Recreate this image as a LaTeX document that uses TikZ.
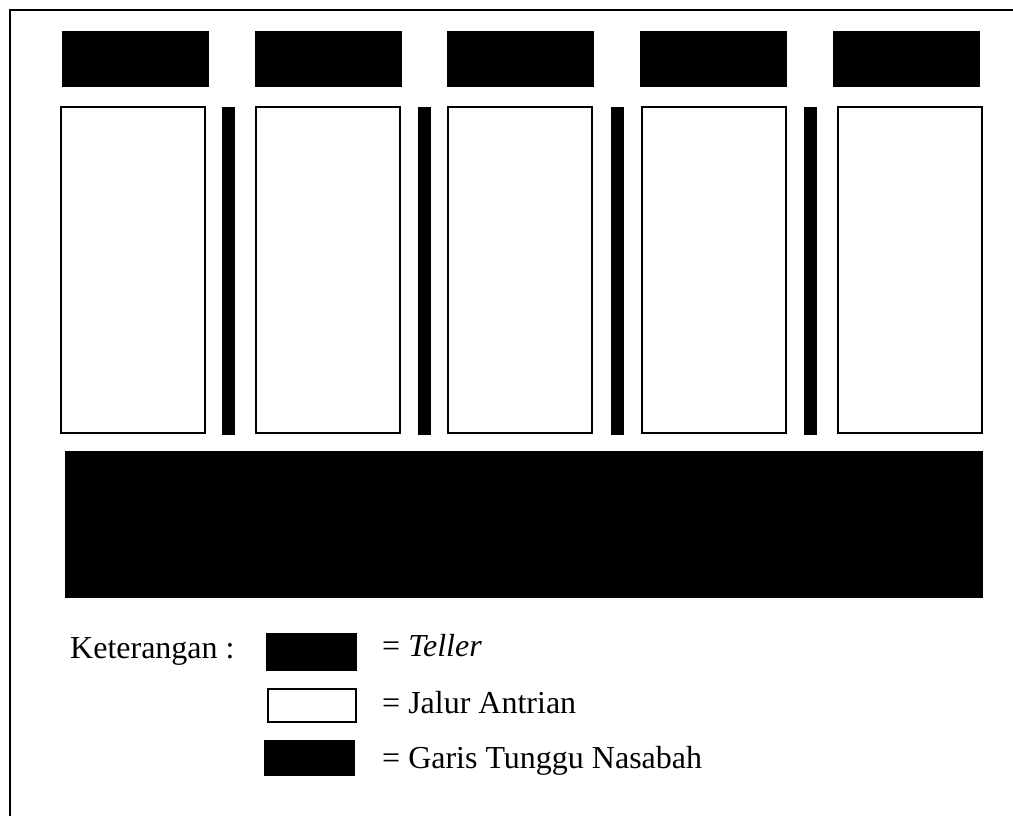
\documentclass[tikz,border=0pt]{standalone}
\usepackage{fontspec}
\setmainfont{Liberation Serif}
\tikzset{
  box/.style={anchor=north west, inner sep=0pt, outer sep=0pt},
  tellerbox/.style={box, fill=black, minimum width=147pt, minimum height=56pt},
  lanebox/.style={box, draw=black, line width=2.4pt, fill=white, minimum width=143.6pt, minimum height=325.6pt},
  sepbar/.style={box, fill=black, minimum width=13pt, minimum height=328pt},
  waitbox/.style={box, fill=black},
  legtext/.style={anchor=base west, inner sep=0pt, font=\fontsize{32}{38}\selectfont}
}
\begin{document}
\begin{tikzpicture}[x=1pt,y=-1pt]
\useasboundingbox (0,0) rectangle (1013,816);
% frame (only top and left visible)
\draw[line width=2.4pt] (10,816) -- (10,10) -- (1013,10);
% tellers
\node[tellerbox] (t1) at (62,31) {};
\node[tellerbox] (t2) at (255,31) {};
\node[tellerbox] (t3) at (447,31) {};
\node[tellerbox] (t4) at (640,31) {};
\node[tellerbox] (t5) at (833,31) {};
% queue lanes
\node[lanebox] (l1) at (61.2,107.2) {};
\node[lanebox] (l2) at (256.2,107.2) {};
\node[lanebox] (l3) at (448.2,107.2) {};
\node[lanebox] (l4) at (642.2,107.2) {};
\node[lanebox] (l5) at (838.2,107.2) {};
% separators
\node[sepbar] (s1) at (222,107) {};
\node[sepbar] (s2) at (418,107) {};
\node[sepbar] (s3) at (611,107) {};
\node[sepbar] (s4) at (804,107) {};
% waiting line
\node[waitbox, minimum width=918pt, minimum height=147pt] (wait) at (65,451) {};
% legend
\node[legtext] (ket) at (70,658) {Keterangan :};
\node[waitbox, minimum width=91pt, minimum height=38pt] (lt) at (266,633) {};
\node[box, draw=black, line width=2.4pt, fill=white, minimum width=87.6pt, minimum height=32.6pt] (ll) at (268.2,689.2) {};
\node[waitbox, minimum width=91pt, minimum height=36pt] (lg) at (264,740) {};
\node[legtext] (tt) at (382,656) {= \textit{Teller}};
\node[legtext] (tl) at (382,713) {= Jalur Antrian};
\node[legtext] (tg) at (382,768) {= Garis Tunggu Nasabah};
\end{tikzpicture}
\end{document}
